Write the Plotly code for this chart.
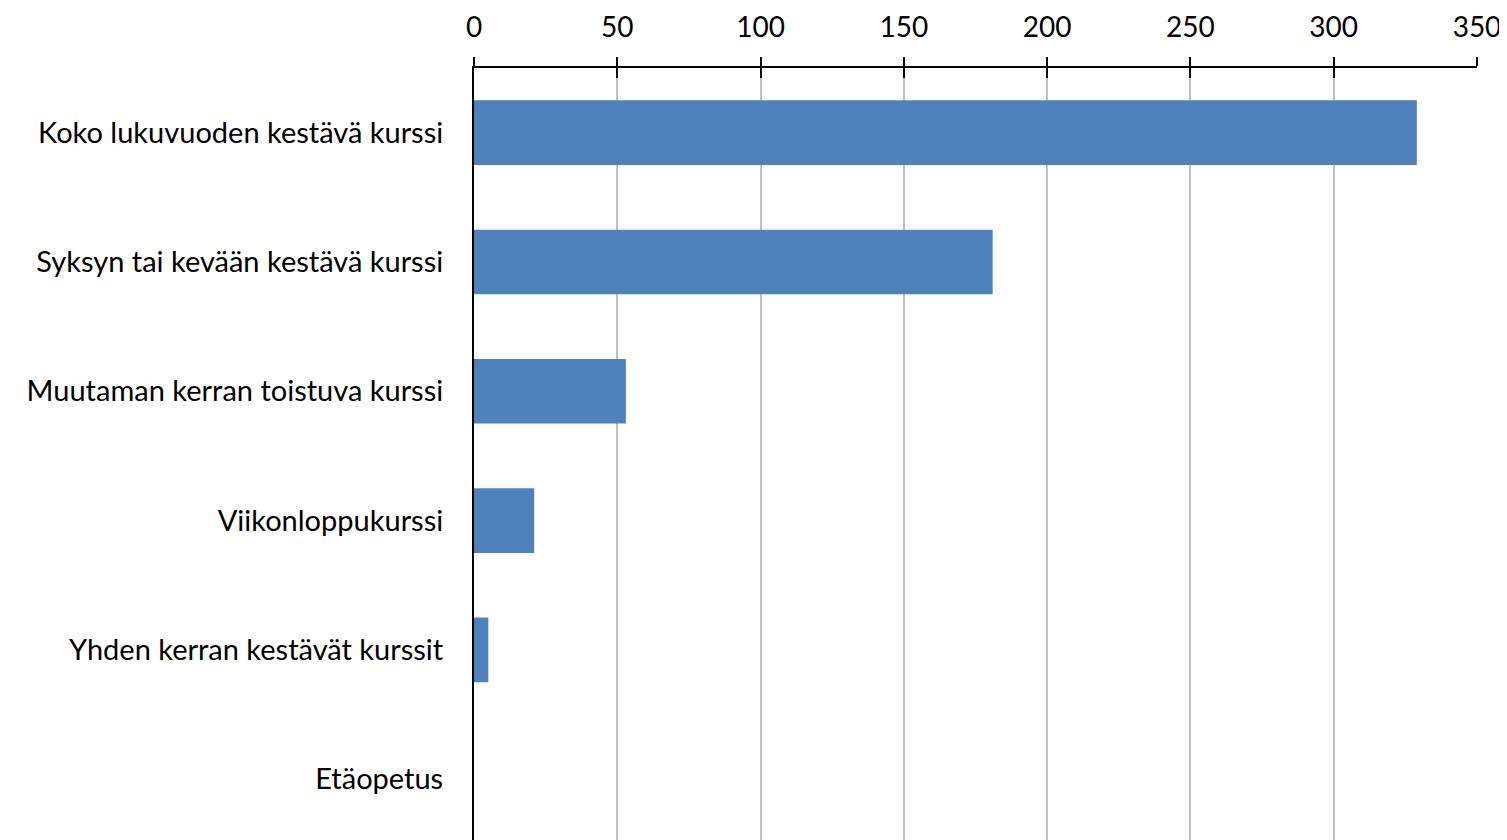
import plotly.graph_objects as go

categories = [
    "Koko lukuvuoden kestävä kurssi",
    "Syksyn tai kevään kestävä kurssi",
    "Muutaman kerran toistuva kurssi",
    "Viikonloppukurssi",
    "Yhden kerran kestävät kurssit",
    "Etäopetus",
]
values = [329, 181, 53, 21, 5, 0]
tick_vals = [0, 50, 100, 150, 200, 250, 300, 350]

font_family = "Lato, 'Open Sans', sans-serif"

fig = go.Figure()
fig.add_trace(go.Bar(
    y=categories, x=values, orientation="h",
    marker=dict(color="#4F81BD", line=dict(width=0)),
    width=0.5,
))
# invisible trace for the secondary axis (inside tick marks)
fig.add_trace(go.Scatter(x=[0], y=[categories[0]], xaxis="x2", mode="markers",
                         marker=dict(opacity=0), hoverinfo="skip", showlegend=False))

fig.update_layout(
    width=1499, height=832,
    margin=dict(l=466, r=30, t=60, b=0, autoexpand=False),
    plot_bgcolor="white", paper_bgcolor="white",
    showlegend=False,
    font=dict(family=font_family, size=28, color="black"),
    xaxis=dict(
        side="top", range=[0, 350], tickvals=tick_vals,
        showgrid=True, gridcolor="#BFBFBF", gridwidth=2,
        showline=True, linecolor="black", linewidth=2,
        ticks="outside", ticklen=9, tickwidth=2, tickcolor="black",
        zeroline=False, tickfont=dict(size=28, family=font_family),
        ticklabelstandoff=9, automargin=False,
    ),
    xaxis2=dict(
        side="top", range=[0, 350], tickvals=tick_vals, overlaying="x",
        showgrid=False, showline=False, showticklabels=False,
        ticks="inside", ticklen=10, tickwidth=2, tickcolor="black",
        zeroline=False, automargin=False,
    ),
    yaxis=dict(
        type="category", categoryorder="array", categoryarray=categories,
        range=[5.47, -0.5],
        showline=True, linecolor="black", linewidth=2,
        showgrid=False, ticks="", ticklabelstandoff=23,
        tickfont=dict(size=29, family=font_family), automargin=False,
    ),
)

fig.write_html("out.html")
